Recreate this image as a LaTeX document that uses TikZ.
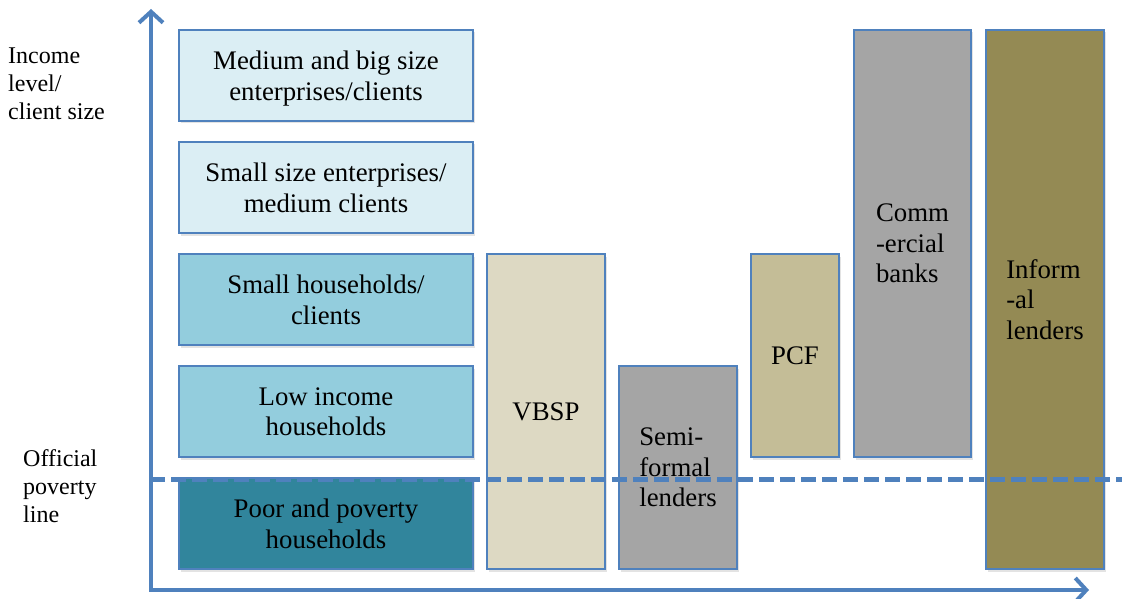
\documentclass[tikz,border=0pt]{standalone}
\usepackage{fontspec}
\setmainfont{Liberation Serif}
\usetikzlibrary{arrows.meta,shadows}

\definecolor{edgeblue}{HTML}{4F81BD}
\definecolor{paleaqua}{HTML}{DBEEF4}
\definecolor{midaqua}{HTML}{93CDDD}
\definecolor{deepaqua}{HTML}{31859C}
\definecolor{lighttan}{HTML}{DDD9C3}
\definecolor{midtan}{HTML}{C4BD97}
\definecolor{darktan}{HTML}{948A54}
\definecolor{midgray}{HTML}{A5A5A5}

\begin{document}
\begin{tikzpicture}[x=1pt,y=-1pt,
  boxfont/.style={font=\fontsize{26.8}{30.5}\selectfont},
  box/.style={draw=edgeblue, line width=1.6pt, inner sep=0pt, boxfont,
    drop shadow={opacity=0.22, shadow xshift=2pt, shadow yshift=-2.5pt}},
  tier/.style={box, minimum width=294pt, minimum height=91pt},
  tiertext/.style={boxfont, anchor=north, inner sep=0pt, align=center},
  lender/.style={box, align=left},
  sidelabel/.style={anchor=west, align=left, inner sep=0pt,
    font=\fontsize{24}{28}\selectfont},
  axis/.style={edgeblue, line width=4pt,
    {Straight Barb[length=11pt,width=24pt]}-{Straight Barb[length=11pt,width=24pt]}},
  povline/.style={edgeblue, line width=5pt, dash pattern=on 15pt off 6pt}]
\useasboundingbox (0,0) rectangle (1122,599);

% axes
\coordinate (origin) at (151,590);
\coordinate (ytip) at (151,9);
\coordinate (xtip) at (1089,590);
\draw[axis] (ytip) -- (origin) -- (xtip);

% axis captions
\node[sidelabel] (ylabel) at (8,84) {Income\\level/\\client size};
\node[sidelabel] (povlabel) at (23,486) {Official\\poverty\\line};

% client tiers
\node[tier, fill=paleaqua] (medbig) at (326,75.5) {};
\node[tier, fill=paleaqua] (small) at (326,187.5) {};
\node[tier, fill=midaqua] (smallhh) at (326,299.5) {};
\node[tier, fill=midaqua] (lowinc) at (326,411.5) {};
\node[tier, fill=deepaqua] (poor) at (326,523.5) {};

\node[tiertext] (medbig-txt) at ([yshift=-22pt]medbig.north) {Medium and big size\\enterprises/clients};
\node[tiertext] (small-txt) at ([yshift=-22pt]small.north) {Small size enterprises/\\medium clients};
\node[tiertext] (smallhh-txt) at ([yshift=-22pt]smallhh.north) {Small households/\\clients};
\node[tiertext] (lowinc-txt) at ([yshift=-22pt]lowinc.north) {Low income\\households};
\node[tiertext] (poor-txt) at ([yshift=-22pt]poor.north) {Poor and poverty\\households};

% lenders
\node[lender, fill=lighttan, minimum width=118pt, minimum height=315pt] (vbsp) at (546,411.5) {VBSP};
\node[lender, fill=midgray, minimum width=118pt, minimum height=203pt] (semi) at (678,467.5) {Semi-\\formal\\lenders};
\node[lender, fill=midtan, minimum width=88pt, minimum height=203pt] (pcf) at (795,355.5) {PCF};
\node[lender, fill=midgray, minimum width=117pt, minimum height=427pt] (banks) at (912.5,243.5) {Comm\\-ercial\\banks};
\node[lender, fill=darktan, minimum width=118pt, minimum height=539pt] (informal) at (1045,299.5) {Inform\\-al\\lenders};

% official poverty line
\coordinate (povL) at (150,479);
\coordinate (povR) at (1122,479);
\draw[povline] (povL) -- (povR);
\end{tikzpicture}
\end{document}
